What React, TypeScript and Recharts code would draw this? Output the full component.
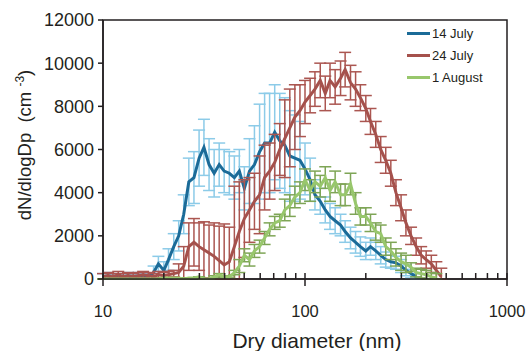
import { ComposedChart, Line, XAxis, YAxis, ErrorBar, ReferenceArea, Label, Legend } from 'recharts';

// SMPS size bins (nm)
const diameters = [
  10, 10.6, 11.2, 11.9, 12.6, 13.3, 14.1, 15.0, 15.8, 16.8,
  17.8, 18.8, 20.0, 21.1, 22.4, 23.7, 25.1, 26.6, 28.2, 29.9,
  31.6, 33.5, 35.5, 37.6, 39.8, 42.2, 44.7, 47.3, 50.1, 53.1,
  56.2, 59.6, 63.1, 66.8, 70.8, 75.0, 79.4, 84.1, 89.1, 94.4,
  100, 106, 112, 119, 126, 133, 141, 150, 158, 168,
  178, 188, 200, 211, 224, 237, 251, 266, 282, 299,
  316, 335, 355, 376, 398, 422, 447, 473,
];

const july14 = [
  100, 150, 50, 100, 80, 150, 50, 150, 100, 100,
  300, 700, 400, 900, 1500, 2000, 3000, 4500, 4700, 5600,
  6100, 5300, 4900, 5300, 5000, 4900, 4700, 5000, 4200, 5000,
  5300, 5900, 6300, 6300, 6800, 6400, 6200, 5700, 5600, 5500,
  5100, 4600, 3900, 3600, 3200, 2900, 2700, 2500, 2200, 1900,
  1700, 1500, 1300, 1500, 1300, 1100, 900, 800, 750, 600,
  400, 250, 100, null, null, null, null, null,
];
const july14Err = [
  150, 150, 150, 150, 150, 150, 150, 150, 150, 150,
  300, 350, 400, 500, 600, 700, 900, 1100, 1200, 1300,
  1300, 1200, 1100, 1000, 1000, 1000, 1000, 1000, 1000, 1500,
  1800, 2200, 2300, 2300, 2200, 2200, 2200, 2100, 2000, 1800,
  1200, 1000, 700, 600, 600, 600, 600, 500, 500, 500,
  500, 450, 400, 400, 400, 400, 350, 300, 300, 300,
  250, 200, 150, null, null, null, null, null,
];

const july24 = [
  100, 150, 100, 200, 100, 150, 100, 150, 200, 150,
  100, 200, 150, 200, 250, 300, 600, 1500, 1700, 1500,
  1350, 1200, 1050, 850, 650, 800, 1500, 2200, 2800, 3200,
  3600, 3900, 4700, 5000, 5400, 6000, 6500, 7000, 7500, 7800,
  8200, 8500, 8800, 9200, 8600, 9200, 8900, 9300, 9700, 9100,
  8800, 8400, 7900, 7300, 6700, 6000, 5500, 4900, 4000, 3300,
  2600, 2000, 1500, 1100, 900, 700, 400, 100,
];
const july24Err = [
  150, 150, 150, 150, 150, 150, 150, 150, 150, 150,
  150, 150, 150, 150, 150, 400, 900, 1100, 1100, 1100,
  1300, 1300, 1550, 1600, 1900, 1600, 2800, 2300, 1800, 1500,
  1300, 1800, 1500, 1300, 1300, 1200, 1800, 1800, 1500, 1200,
  1000, 800, 800, 800, 800, 800, 800, 800, 800, 800,
  800, 600, 600, 600, 600, 600, 600, 600, 600, 600,
  600, 400, 400, 400, 400, 400, 400, 400,
];

const aug1 = [
  0, 0, 0, 0, 0, 0, 0, 0, 0, 0,
  0, 0, 50, 50, 50, 50, 0, 50, 50, 100,
  0, 0, 100, 200, 100, 100, 300, 600, 1100, 900,
  1300, 1500, 1900, 2300, 2600, 2700, 3200, 3400, 3800, 4000,
  4600, 4100, 4500, 4300, 4700, 4100, 4500, 3900, 3900, 4400,
  3500, 2900, 2900, 2600, 2200, 2100, 1500, 1300, 1000, 800,
  700, 550, 300, 250, 200, 100, 50, null,
];
const aug1Err = [
  0, 0, 0, 0, 0, 0, 0, 0, 0, 0,
  0, 0, 0, 0, 0, 0, 0, 0, 0, 0,
  0, 0, 50, 50, 50, 50, 100, 300, 300, 300,
  300, 300, 300, 300, 300, 300, 500, 500, 500, 500,
  500, 500, 500, 500, 500, 500, 500, 500, 500, 500,
  500, 400, 400, 400, 400, 400, 400, 400, 400, 400,
  400, 200, 200, 200, 200, 200, 200, null,
];

const yTicks = [0, 2000, 4000, 6000, 8000, 10000, 12000];
const xTicks = [10, 20, 30, 40, 50, 60, 70, 80, 90, 100, 200, 300, 400, 500, 600, 700, 800, 900, 1000];
const xMajor = [10, 100, 1000];

const series = [
  { name: '14 July', values: july14, errs: july14Err, color: '#1b6b98', errColor: '#8ccbe8' },
  { name: '24 July', values: july24, errs: july24Err, color: '#a5514c', errColor: '#ab5651' },
  { name: '1 August', values: aug1, errs: aug1Err, color: '#98c76c', errColor: '#7ea556' },
];

const buildData = (values: (number | null)[], errs: (number | null)[]) =>
  diameters
    .map((d, i) => ({ d, v: values[i], e: errs[i] }))
    .filter((p) => p.v != null)
    .map((p) => ({ d: p.d, v: p.v, err: [Math.min(p.e ?? 0, p.v as number), p.e ?? 0] }));

const font = '"Liberation Sans", Arial, sans-serif';
const ink = '#231f20';

const XTick = ({ x, y, payload }: any) => {
  const major = xMajor.includes(payload.value);
  return (
    <g>
      <line x1={x} x2={x} y1={y - 6} y2={major ? y + 7 : y} stroke={ink} strokeWidth={1.5} />
      {major && (
        <text x={x} y={y + 38} textAnchor="middle" fontSize={16.5} fontFamily={font} fill={ink}>
          {payload.value}
        </text>
      )}
    </g>
  );
};

const renderLegend = () => (
  <div style={{ fontFamily: font, fontSize: 13, color: ink }}>
    {series.map((s) => (
      <div key={s.name} style={{ display: 'flex', alignItems: 'center', height: 22 }}>
        <span style={{ display: 'inline-block', width: 23, height: 3, background: s.color, marginRight: 2 }} />
        <span>{s.name}</span>
      </div>
    ))}
  </div>
);

export default function App() {
  return (
    <div style={{ position: 'absolute', left: 0, top: 0, background: '#fff' }}>
      <ComposedChart width={531} height={351} margin={{ top: 20, right: 24, left: 0, bottom: 0 }}>
        <XAxis
          type="number"
          dataKey="d"
          scale="log"
          domain={[10, 1000]}
          allowDataOverflow
          ticks={xTicks}
          interval={0}
          tick={<XTick />}
          tickSize={0}
          tickMargin={0}
          tickLine={false}
          axisLine={{ stroke: ink, strokeWidth: 1.5 }}
          height={72}
        >
          <Label
            content={() => (
              <text x={317} y={348} textAnchor="middle" fontSize={21} fontFamily={font} fill={ink}>
                Dry diameter (nm)
              </text>
            )}
          />
        </XAxis>
        <YAxis
          type="number"
          domain={[0, 12000]}
          allowDataOverflow
          ticks={yTicks}
          interval={0}
          width={103}
          tickSize={5}
          tickMargin={4}
          tick={{ fontSize: 18, fontFamily: font, fill: ink }}
          tickLine={{ stroke: ink, strokeWidth: 1.5 }}
          axisLine={{ stroke: ink, strokeWidth: 1.5 }}
        >
          <Label
            content={() => (
              <text
                transform="translate(31,145) rotate(-90)"
                textAnchor="middle"
                fontSize={18.5}
                fontFamily={font}
                fill={ink}
                style={{ whiteSpace: 'pre' }}
              >
                {'dN/dlogDp  (cm '}
                <tspan dy={-7} fontSize={12}>-3</tspan>
                <tspan dy={7}>)</tspan>
              </text>
            )}
          />
        </YAxis>
        <ReferenceArea x1={10} x2={1000} y1={0} y2={12000} fill="none" stroke={ink} strokeWidth={1.5} ifOverflow="visible" />
        {series.map((s) => {
          const data = buildData(s.values, s.errs);
          return [
            <Line
              key={s.name + '-err'}
              data={data}
              dataKey="v"
              stroke="none"
              dot={false}
              activeDot={false}
              legendType="none"
              isAnimationActive={false}
            >
              <ErrorBar dataKey="err" width={6} strokeWidth={1.5} stroke={s.errColor} direction="y" />
            </Line>,
            <Line
              key={s.name}
              data={data}
              dataKey="v"
              name={s.name}
              type="linear"
              stroke={s.color}
              strokeWidth={3}
              dot={false}
              activeDot={false}
              isAnimationActive={false}
            />,
          ];
        })}
        <Legend
          content={renderLegend}
          layout="vertical"
          align="center"
          verticalAlign="middle"
          wrapperStyle={{ position: 'absolute', left: 407, top: 22, width: 110 }}
        />
      </ComposedChart>
    </div>
  );
}
